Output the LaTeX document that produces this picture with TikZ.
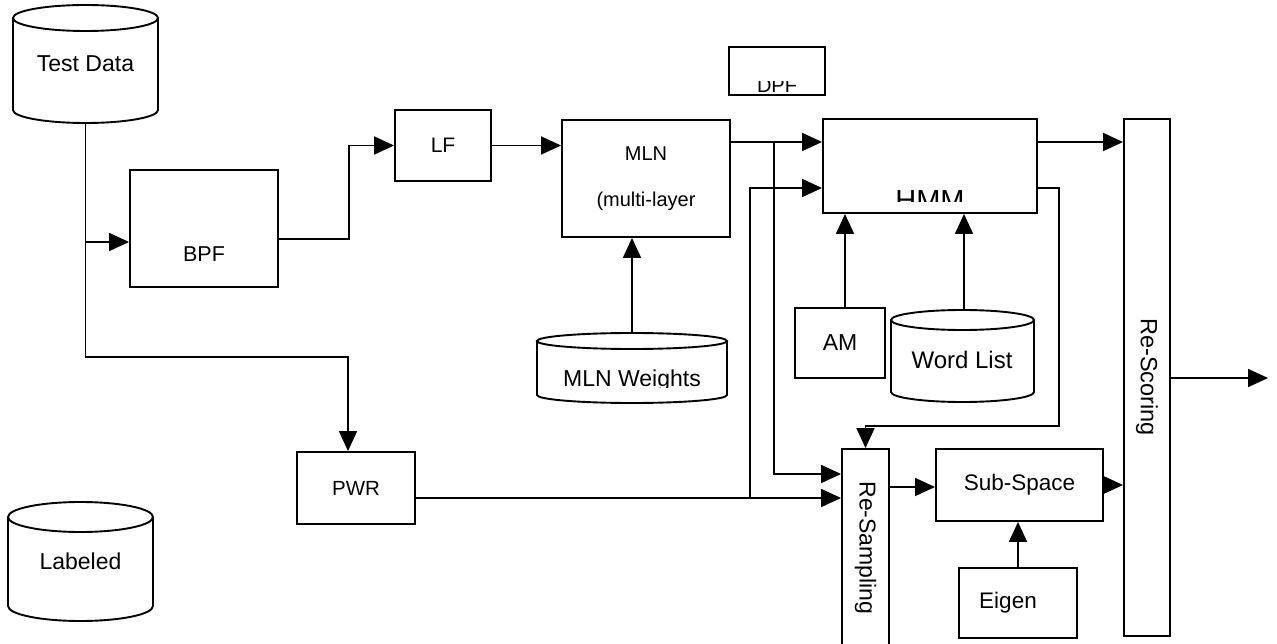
\documentclass[tikz,border=0pt]{standalone}
\usepackage{fontspec}
\setmainfont{Liberation Sans}
\usetikzlibrary{arrows.meta}
\newcommand\fsz[1]{\fontsize{#1}{#1}\selectfont}
% cylinder outline: x1,y1,x2,y2,ry (y grows downwards)
\newcommand\drawcyl[5]{%
  \pgfmathsetmacro\cylcx{(#1+#3)/2}%
  \pgfmathsetmacro\cylrx{(#3-#1)/2}%
  \draw[line width=1.9pt] (\cylcx,#2+#5) ellipse [x radius=\cylrx, y radius=#5];
  \draw[line width=1.9pt] (#1,#2+#5) -- (#1,#4-#5)
     arc[start angle=180, end angle=0, x radius=\cylrx, y radius=#5] -- (#3,#2+#5);
}
\begin{document}
\begin{tikzpicture}[x=1pt,y=-1pt,
  box/.style={draw, line width=1.9pt, inner sep=0pt, font=\fsz{22}},
  ghost/.style={draw=none, inner sep=0pt, font=\fsz{22}},
  lbl/.style={inner sep=0pt, font=\fsz{22}},
  arr/.style={line width=1.7pt, -{Triangle[length=20pt,width=18pt]}}]
\useasboundingbox (0,0) rectangle (1277,644);
\clip (0,0) rectangle (1277,644);

% ---- cylinders ----
\node[ghost, font=\fsz{23}, minimum width=145pt, minimum height=118pt] (testdata) at (85.5,64) {Test Data};
\drawcyl{13}{5}{158}{123}{13}
\node[ghost, font=\fsz{23}, minimum width=145pt, minimum height=119pt] (labeled) at (80.5,561.5) {Labeled};
\drawcyl{8}{502}{153}{621}{15}
\node[ghost, minimum width=143pt, minimum height=92pt] (wl) at (962.5,356) {};
\drawcyl{891}{310}{1034}{402}{10}
\node[lbl, font=\fsz{24}] (wltxt) at (962,360) {Word List};
\node[ghost, minimum width=190pt, minimum height=70pt] (mlnw) at (632,368) {};
\drawcyl{537}{333}{727}{403}{8}
\begin{scope}
  \clip (537,333) rectangle (727,387);
  \node[lbl, font=\fsz{23}, anchor=base] (mlnwtxt) at (632,386) {MLN Weights};
\end{scope}

% ---- boxes ----
\node[box, minimum width=148pt, minimum height=117pt] (bpf) at (204,228.5) {};
\node[lbl, font=\fsz{21.5}] (bpftxt) at (204,254) {BPF};
\node[box, font=\fsz{21}, minimum width=96pt, minimum height=71pt] (lf) at (443,145.5) {LF};
\node[box, minimum width=168pt, minimum height=117pt] (mln) at (646,178.5) {};
\node[lbl, font=\fsz{20}] (mlntxt) at (646,154) {MLN};
\node[lbl, font=\fsz{20}] (mlntxtb) at (646,201) {(multi-layer};
\node[box, minimum width=96pt, minimum height=48pt] (dpf) at (777,71) {};
\begin{scope}
  \clip (729,82) rectangle (825,96);
  \node[lbl, font=\fsz{20}, anchor=base] (dpftxt) at (777,93) {DPF};
\end{scope}
\node[box, minimum width=214pt, minimum height=94pt] (hmm) at (930,166) {};
\begin{scope}
  \clip (823,119) rectangle (1037,202);
  \node[lbl, font=\fsz{29}, anchor=base] (hmmtxt) at (930,211) {HMM};
\end{scope}
\node[box, font=\fsz{23}, minimum width=90pt, minimum height=70pt] (am) at (840,343) {AM};
\node[box, minimum width=47pt, minimum height=220pt] (resamp) at (865.5,559) {};
\node[lbl, font=\fsz{23}, rotate=-90] (resamptxt) at (865.5,548) {Re-Sampling};
\node[box, font=\fsz{22.5}, minimum width=167pt, minimum height=72pt] (subsp) at (1019.5,485) {Sub-Space};
\node[box, minimum width=118pt, minimum height=70pt] (eigen) at (1018,603) {};
\node[lbl, font=\fsz{22.5}] (eigentxt) at (1008,603) {Eigen};
\node[box, font=\fsz{23.5}, minimum width=46pt, minimum height=517pt] (rescore) at (1147,377.5) {};
\node[lbl, font=\fsz{23.5}, rotate=-90] (rescoretxt) at (1147,377) {Re-Scoring};
\node[box, font=\fsz{20.5}, minimum width=118pt, minimum height=72pt] (pwr) at (356,488) {PWR};

% ---- connectors ----
\coordinate (jb) at (85.5,242);
\coordinate (jc) at (349,239);
\coordinate (jf) at (774,142);
\coordinate (jh) at (750,498);
\coordinate (jl) at (1059,426);
\coordinate (out) at (1268,378);

\draw[arr] (testdata.south) -- ++(0,234) -| ([xshift=-8pt]pwr.north);
\draw[arr] (jb) -- (jb -| bpf.west);
\draw[arr] (bpf.east |- jc) -- (jc) |- (lf.west);
\draw[arr] (lf.east) -- (mln.west |- lf.east);
\draw[arr] (mln.east |- jf) -- (hmm.west |- jf);
\draw[arr] (jf) |- (resamp.west |- 0,474);
\draw[arr] (pwr.east |- jh) -- (resamp.west |- jh);
\draw[arr] (jh) |- (hmm.west |- 0,188);
\draw[arr] (mlnw.north) -- (mlnw.north |- mln.south);
\draw[arr] ([xshift=5pt]am.north) -- ([xshift=5pt]am.north |- hmm.south);
\draw[arr] ([xshift=1.5pt]wl.north) -- ([xshift=1.5pt]wl.north |- hmm.south);
\draw[arr] (hmm.east |- 0,188) -| (jl) -| (resamp.north);
\draw[arr] (hmm.east |- jf) -- (rescore.west |- jf);
\draw[arr] (resamp.east |- 0,487) -- (subsp.west |- 0,487);
\draw[arr] (subsp.east) -- (rescore.west |- subsp.east);
\draw[arr] (eigen.north) -- (eigen.north |- subsp.south);
\draw[arr] (rescore.east |- out) -- (out);
\end{tikzpicture}
\end{document}
